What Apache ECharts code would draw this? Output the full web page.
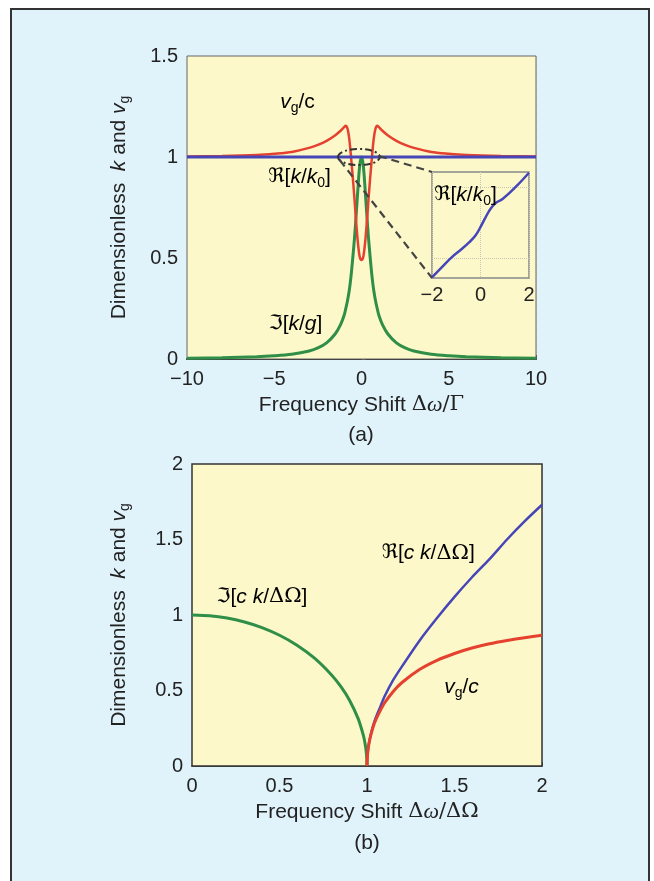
<!DOCTYPE html>
<html>
<head>
<meta charset="utf-8">
<script src="https://cdn.jsdelivr.net/npm/echarts/dist/echarts.min.js"></script>
<style>
html,body{margin:0;padding:0;background:#ffffff;width:654px;height:881px;overflow:hidden;}
#panel{position:absolute;left:10px;top:8px;width:636px;height:900px;border:2px solid #333;background:#e0f3fb;}
#chart{position:absolute;left:0;top:0;width:654px;height:881px;}
</style>
</head>
<body>
<div id="panel"></div>
<div id="chart"></div>
<script>
// ---------- Data: panel (a) ----------
const aX = [-10,-8,-6,-5,-4,-3,-2.5,-2,-1.5,-1.2,-1,-0.9,-0.8,-0.7,-0.6,-0.5,-0.4,-0.3,-0.2,-0.1,0,0.1,0.2,0.3,0.4,0.5,0.6,0.7,0.8,0.9,1,1.2,1.5,2,2.5,3,4,5,6,8,10];
const aImag = [0.004,0.006,0.011,0.016,0.024,0.04,0.055,0.08,0.125,0.17,0.215,0.25,0.29,0.34,0.41,0.5,0.6,0.72,0.85,0.96,1.0,0.96,0.85,0.72,0.6,0.5,0.41,0.34,0.29,0.25,0.215,0.17,0.125,0.08,0.055,0.04,0.024,0.016,0.011,0.006,0.004];
const aVg = [1.003,1.005,1.01,1.016,1.025,1.045,1.06,1.08,1.108,1.13,1.148,1.155,1.14,1.09,1.0,0.9,0.79,0.67,0.57,0.505,0.49,0.505,0.57,0.67,0.79,0.9,1.0,1.09,1.14,1.155,1.148,1.13,1.108,1.08,1.06,1.045,1.025,1.016,1.01,1.005,1.003];
const aReX = [-10,-5,0,5,10];
const aRe = [1,1,1,1,1];
// inset: Re[k/k0] zoomed
const inX = [-2,-1.6,-1.18,-0.8,-0.47,-0.2,0.02,0.22,0.43,0.65,0.91,1.45,2];
const inRe = [-0.27,-0.13,0.014,0.12,0.22,0.32,0.45,0.58,0.70,0.78,0.83,1.0,1.2];
const aXTicks = {min:-10,max:10,interval:5};
const aYTicks = {min:0,max:1.5,interval:0.5};

// ---------- Data: panel (b) ----------
const bImX = [0,0.1,0.2,0.3,0.4,0.5,0.6,0.7,0.8,0.85,0.9,0.95,0.98,0.99,0.995,0.999,1.0];
const bIm  = [1,0.995,0.98,0.954,0.917,0.866,0.8,0.714,0.6,0.527,0.436,0.312,0.199,0.141,0.1,0.045,0];
const bReX = [1,1.001,1.005,1.01,1.02,1.035,1.05,1.075,1.1,1.15,1.2,1.3,1.4,1.5,1.6,1.7,1.8,1.9,2];
const bRe  = [0,0.045,0.1,0.142,0.2,0.267,0.32,0.39,0.46,0.57,0.66,0.83,0.98,1.12,1.25,1.37,1.5,1.62,1.73];
const bVg  = [0,0.045,0.099,0.14,0.196,0.258,0.305,0.365,0.417,0.494,0.553,0.639,0.7,0.745,0.781,0.809,0.831,0.85,0.866];

const zip = (xs, ys) => xs.map((x, i) => [x, ys[i]]);

const RED = '#e5412f', BLUE = '#4646b8', GREEN = '#2f8e47';
const PLOTBG = '#fdf8c9';
const FONT = 'Liberation Sans, Arial, Helvetica, sans-serif';
const FS = 21;
const TFS = 20;
const minusFmt = v => (v < 0 ? '\u2212' + (-v) : String(v));

const rich = {
  n:  {fontFamily: FONT, fontSize: FS, color: '#222', lineHeight: 26},
  i:  {fontFamily: FONT, fontSize: FS, color: '#222', fontStyle: 'italic', lineHeight: 26},
  s:  {fontFamily: FONT, fontSize: 14, color: '#222', lineHeight: 14, verticalAlign: 'bottom'},
  fr: {fontFamily: 'DejaVu Serif, DejaVu Sans, serif', fontSize: 20, color: '#222', lineHeight: 26},
  m:  {fontFamily: 'DejaVu Serif, Liberation Serif, serif', fontSize: FS, color: '#222', lineHeight: 26},
  mi: {fontFamily: 'Liberation Serif, DejaVu Serif, serif', fontSize: FS + 1, fontStyle: 'italic', color: '#222', lineHeight: 26}
};

const splitStyle = {show: true, lineStyle: {color: '#d4cfb0', type: 'dotted', width: 1}};
const tickStyle = {inside: true, length: 4, lineStyle: {color: '#555'}};
const labelStyle = {color: '#222', fontFamily: FONT, fontSize: TFS};

const chart = echarts.init(document.getElementById('chart'), null, {renderer: 'canvas'});

const option = {
  backgroundColor: 'transparent',
  animation: false,
  grid: [
    {left: 187, top: 56, width: 349, height: 303, show: true, backgroundColor: PLOTBG, borderColor: '#666', borderWidth: 1, z: 2},
    {left: 432, top: 172, width: 97, height: 106, show: true, backgroundColor: PLOTBG, borderColor: '#888', borderWidth: 1.5, z: 5},
    {left: 192, top: 464, width: 350, height: 302, show: true, backgroundColor: PLOTBG, borderColor: '#333', borderWidth: 1.5, z: 2}
  ],
  xAxis: [
    {gridIndex: 0, type: 'value', min: aXTicks.min, max: aXTicks.max, interval: aXTicks.interval,
     axisLine: {show: true, lineStyle: {color: '#222', width: 2}}, axisTick: tickStyle, splitLine: splitStyle,
     axisLabel: Object.assign({formatter: minusFmt, margin: 10}, labelStyle),
     name: '{n|Frequency Shift }{m|Δ}{mi|ω}{m|/Γ}', nameLocation: 'middle', nameGap: 33,
     nameTextStyle: {rich: rich}},
    {gridIndex: 1, type: 'value', min: -2, max: 2, interval: 2,
     axisLine: {show: false}, axisTick: {show: false}, z: 6,
     splitLine: {show: true, lineStyle: {color: '#c9c6b4', type: 'dotted', width: 1}},
     axisLabel: Object.assign({formatter: minusFmt, margin: 7}, labelStyle)},
    {gridIndex: 2, type: 'value', min: 0, max: 2, interval: 0.5,
     axisLine: {show: true, lineStyle: {color: '#222', width: 1.5}}, axisTick: tickStyle, splitLine: splitStyle,
     axisLabel: Object.assign({margin: 10}, labelStyle),
     name: '{n|Frequency Shift }{m|Δ}{mi|ω}{m|/ΔΩ}', nameLocation: 'middle', nameGap: 33,
     nameTextStyle: {rich: rich}}
  ],
  yAxis: [
    {gridIndex: 0, type: 'value', min: aYTicks.min, max: aYTicks.max, interval: aYTicks.interval,
     axisLine: {show: false}, axisTick: tickStyle, splitLine: splitStyle,
     axisLabel: Object.assign({margin: 9}, labelStyle),
     name: '{n|Dimensionless  }{i|k}{n| and }{i|v}{s|g}', nameLocation: 'middle', nameRotate: 90, nameGap: 55,
     nameTextStyle: {rich: rich}},
    {gridIndex: 1, type: 'value', min: -0.28, max: 1.21,
     axisLine: {show: false}, axisTick: {show: false}, axisLabel: {show: false}, splitLine: {show: false}},
    {gridIndex: 2, type: 'value', min: 0, max: 2, interval: 0.5,
     axisLine: {show: false}, axisTick: tickStyle, splitLine: splitStyle,
     axisLabel: Object.assign({margin: 9}, labelStyle),
     name: '{n|Dimensionless  }{i|k}{n| and }{i|v}{s|g}', nameLocation: 'middle', nameRotate: 90, nameGap: 60,
     nameTextStyle: {rich: rich}}
  ],
  series: [
    {type: 'line', xAxisIndex: 0, yAxisIndex: 0, data: zip(aX, aImag), showSymbol: false, smooth: 0.3,
     lineStyle: {color: GREEN, width: 3}, z: 3},
    {type: 'line', xAxisIndex: 0, yAxisIndex: 0, data: zip(aX, aVg), showSymbol: false, smooth: 0.3,
     lineStyle: {color: RED, width: 2.5}, z: 4},
    {type: 'line', xAxisIndex: 0, yAxisIndex: 0, data: zip(aReX, aRe), showSymbol: false,
     lineStyle: {color: BLUE, width: 3}, z: 5},
    {type: 'line', xAxisIndex: 1, yAxisIndex: 1, data: zip(inX, inRe), showSymbol: false, smooth: 0.4,
     lineStyle: {color: BLUE, width: 2.5}, z: 7,
     markLine: {silent: true, symbol: 'none', label: {show: false},
       lineStyle: {color: '#c9c6b4', type: 'dotted', width: 1}, data: [{yAxis: 0}, {yAxis: 1}]}},
    {type: 'line', xAxisIndex: 2, yAxisIndex: 2, data: zip(bImX, bIm), showSymbol: false, smooth: 0.2,
     lineStyle: {color: GREEN, width: 3}, z: 3},
    {type: 'line', xAxisIndex: 2, yAxisIndex: 2, data: zip(bReX, bRe), showSymbol: false, smooth: 0.2,
     lineStyle: {color: BLUE, width: 2.5}, z: 3},
    {type: 'line', xAxisIndex: 2, yAxisIndex: 2, data: zip(bReX, bVg), showSymbol: false, smooth: 0.2,
     lineStyle: {color: RED, width: 3}, z: 4}
  ]
};
chart.setOption(option);

// ---------- annotations anchored in data coordinates ----------
const px = (g, p) => chart.convertToPixel({gridIndex: g}, p);
const txt = (g, p, text) => {
  const q = px(g, p);
  return {type: 'text', x: q[0], y: q[1], z: 100,
    style: {text: text, rich: rich, align: 'center', verticalAlign: 'middle'}};
};
const ellC = px(0, [-0.15, 1.0]);
const ellR = px(0, [1.05, 1.04]);
const ellLeft = px(0, [-1.25, 0.985]);
const ellRight = px(0, [1.0, 1.005]);
const inBL = px(1, [-2, -0.28]);
const inTL = px(1, [-2, 1.21]);

chart.setOption({
  graphic: [
    txt(0, [-3.67, 1.27], '{i|v}{s|g}{n|/c}'),
    txt(0, [-3.55, 0.90], '{fr|ℜ}{n|[}{i|k}{n|/}{i|k}{s|0}{n|]}'),
    txt(0, [-3.78, 0.173], '{fr|ℑ}{n|[}{i|k}{n|/}{i|g}{n|]}'),
    txt(1, [-0.62, 0.89], '{fr|ℜ}{n|[}{i|k}{n|/}{i|k}{s|0}{n|]}'),
    txt(2, [0.40, 1.12], '{fr|ℑ}{n|[}{i|c}{n| }{i|k}{n|/}{m|ΔΩ}{n|]}'),
    txt(2, [1.35, 1.41], '{fr|ℜ}{n|[}{i|c}{n| }{i|k}{n|/}{m|ΔΩ}{n|]}'),
    txt(2, [1.54, 0.52], '{i|v}{s|g}{n|/}{i|c}'),
    {type: 'ellipse', z: 90,
     shape: {cx: ellC[0], cy: ellC[1], rx: Math.abs(ellR[0] - ellC[0]), ry: Math.abs(ellR[1] - ellC[1])},
     style: {fill: null, stroke: '#333', lineWidth: 2, lineDash: [7, 3, 2, 3]}},
    {type: 'line', z: 90, shape: {x1: ellLeft[0], y1: ellLeft[1], x2: inBL[0], y2: inBL[1]},
     style: {stroke: '#444', lineWidth: 2.2, lineDash: [8, 5]}},
    {type: 'line', z: 90, shape: {x1: ellRight[0], y1: ellRight[1], x2: inTL[0], y2: inTL[1]},
     style: {stroke: '#444', lineWidth: 2.2, lineDash: [8, 5]}},
    {type: 'text', x: 361, y: 435, z: 100, style: {text: '(a)', font: FS + 'px ' + FONT, fill: '#222', align: 'center', verticalAlign: 'middle'}},
    {type: 'text', x: 367, y: 843, z: 100, style: {text: '(b)', font: FS + 'px ' + FONT, fill: '#222', align: 'center', verticalAlign: 'middle'}}
  ]
});
</script>
</body>
</html>
